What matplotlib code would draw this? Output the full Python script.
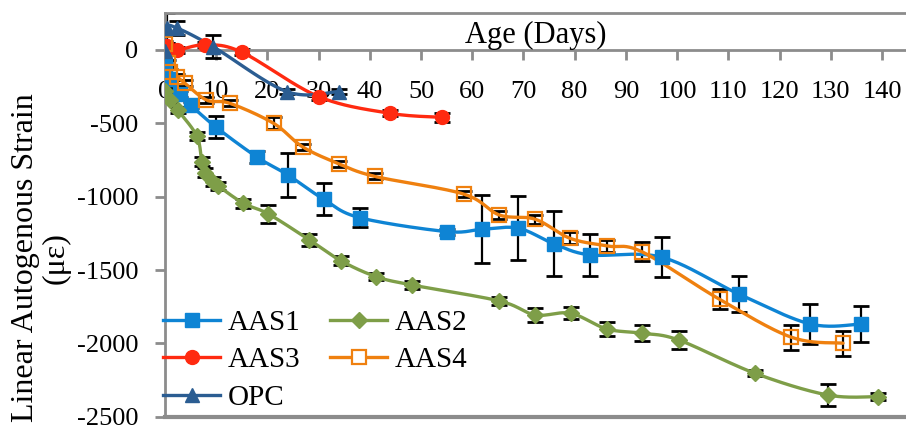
import numpy as np
import matplotlib
matplotlib.use("Agg")
import matplotlib.pyplot as plt
from matplotlib.lines import Line2D

plt.rcParams['font.family'] = ['Liberation Serif', 'DejaVu Serif']
plt.rcParams['axes.unicode_minus'] = False

# values (age in days, strain in microstrain)
days_aas1 = [0, 1, 3, 5, 10, 18, 24, 31, 38, 55, 62, 69, 76, 83, 97, 112, 126, 136]
aas1 = [-100, -200, -300, -375, -527, -731, -852, -1018, -1143, -1238, -1222,
        -1215, -1322, -1397, -1413, -1663, -1868, -1868]
err_aas1 = [20, 20, 20, 20, 75, 40, 150, 110, 65, 20, 230, 218, 222, 145, 136, 120, 133, 123]

days_aas2 = [0, 1, 2.5, 6.2, 7.2, 7.9, 9.4, 10.4, 15.3, 20.2, 28.2, 34.3, 41.2, 48.2,
             65.3, 72.3, 79.2, 86.3, 93.2, 100.3, 115.2, 129.4, 139.3]
aas2 = [-280, -340, -410, -586, -761, -836, -898, -927, -1045, -1118, -1295, -1436,
        -1545, -1602, -1711, -1806, -1795, -1902, -1931, -1977, -2204, -2352, -2363]
err_aas2 = [20, 20, 20, 30, 30, 30, 30, 30, 30, 62, 38, 30, 25, 25, 30, 48, 40, 50, 55,
            60, 20, 76, 25]

days_aas3 = [0.3, 2.3, 7.8, 15, 30, 44, 54]
aas3 = [30, 0, 35, -15, -318, -432, -459]
err_aas3 = [20, 20, 20, 20, 20, 20, 30]

days_aas4 = [0, 0.5, 1, 2.3, 3.9, 8.1, 12.7, 21.2, 26.9, 33.9, 41.0, 58.3, 65.3, 72.3,
             79.1, 86.3, 93.1, 108.3, 122.3, 132.4]
aas4 = [40, -91, -148, -182, -227, -341, -364, -500, -661, -775, -862, -982, -1125,
        -1154, -1284, -1336, -1375, -1700, -1958, -1999]
err_aas4 = [20, 20, 20, 20, 20, 20, 20, 40, 20, 20, 20, 20, 30, 30, 40, 40, 65, 68, 85, 85]

days_opc = [0, 0.3, 2.3, 9.4, 23.8, 33.9]
opc = [-10, 150, 150, 22, -284, -284]
err_opc = [20, 100, 50, 80, 15, 15]

xticks = list(range(0, 150, 10))
yticks = [0, -500, -1000, -1500, -2000, -2500]

series = [
    ("AAS1", days_aas1, aas1, err_aas1, '#0E84D4', 's', '#0E84D4'),
    ("AAS2", days_aas2, aas2, err_aas2, '#7E9E48', 'D', '#7E9E48'),
    ("AAS3", days_aas3, aas3, err_aas3, '#FF2A10', 'o', '#FF2A10'),
    ("AAS4", days_aas4, aas4, err_aas4, '#EF800F', 's', 'none'),
    ("OPC", days_opc, opc, err_opc, '#2B5D92', '^', '#2B5D92'),
]
msize = {'s': 10, 'D': 8.5, 'o': 10, '^': 10}


def smooth(ax, xs, ys, n=24):
    # excel style smoothed line, bezier through the points in screen space
    pts = ax.transData.transform(np.column_stack([xs, ys]))
    out = []
    for i in range(len(pts) - 1):
        p0 = pts[i - 1] if i > 0 else pts[i]
        p1 = pts[i]
        p2 = pts[i + 1]
        p3 = pts[i + 2] if i + 2 < len(pts) else pts[i + 1]
        c1 = p1 + (p2 - p0) / 6
        c2 = p2 - (p3 - p1) / 6
        t = np.linspace(0, 1, n)[:, None]
        out.append((1 - t) ** 3 * p1 + 3 * (1 - t) ** 2 * t * c1
                   + 3 * (1 - t) * t ** 2 * c2 + t ** 3 * p2)
    return ax.transData.inverted().transform(np.vstack(out))


fig = plt.figure(figsize=(9.06, 4.29), dpi=100)
ax = fig.add_axes([165 / 906, 1 - 416.7 / 429, 1 - 165 / 906, (416.7 - 13) / 429])
ax.set_xlim(0, 144.7)
ax.set_ylim(-2500, 252)

grey = '#8c8c8c'
for s in ['left', 'top', 'bottom']:
    ax.spines[s].set_color(grey)
    ax.spines[s].set_linewidth(2)
ax.spines['right'].set_visible(False)
ax.spines['bottom'].set_position(('data', 0))
ax.axhline(-2500, color=grey, lw=3, clip_on=False, zorder=1)

ax.set_xticks(xticks)
ax.set_yticks(yticks)
ax.tick_params(axis='x', direction='out', length=7, width=2, color=grey, pad=15, labelsize=19)
ax.tick_params(axis='y', direction='out', length=7, width=2, color=grey, pad=12, labelsize=19)

handles = {}
for name, xs, ys, err, col, mk, face in series:
    ax.errorbar(xs, ys, yerr=err, fmt='none', ecolor='black', elinewidth=1.6,
                capsize=6, capthick=2, zorder=2)
    curve = smooth(ax, xs, ys)
    ax.plot(curve[:, 0], curve[:, 1], color=col, lw=2.4, zorder=3, solid_capstyle='round')
    ax.plot(xs, ys, ls='none', marker=mk, ms=msize[mk], mfc=face, mec=col,
            mew=1.6 if face == 'none' else 1, zorder=4)
    handles[name] = Line2D([], [], color=col, lw=2.4, marker=mk, ms=msize[mk],
                           mfc=face if face != 'none' else 'white', mec=col,
                           mew=1.6 if face == 'none' else 1)

ax.text(0.5, 0.9455, "Age (Days)", transform=ax.transAxes, ha='center', va='center',
        fontsize=22)

fig.text(41 / 906, 1 - 258 / 429, "Linear Autogenous Strain\n(με)", rotation=90,
         ha='center', va='center', multialignment='center', fontsize=23, linespacing=1.05)

order = ["AAS1", "AAS3", "OPC", "AAS2", "AAS4"]
ax.legend([handles[k] for k in order], order, ncol=2, loc='lower left',
          bbox_to_anchor=(-0.01, 0.0), frameon=False, fontsize=21,
          handlelength=1.95, handletextpad=0.27, columnspacing=1.0,
          labelspacing=0.38, borderaxespad=0.1, borderpad=0.1)

fig.savefig("out.png", dpi=100)
